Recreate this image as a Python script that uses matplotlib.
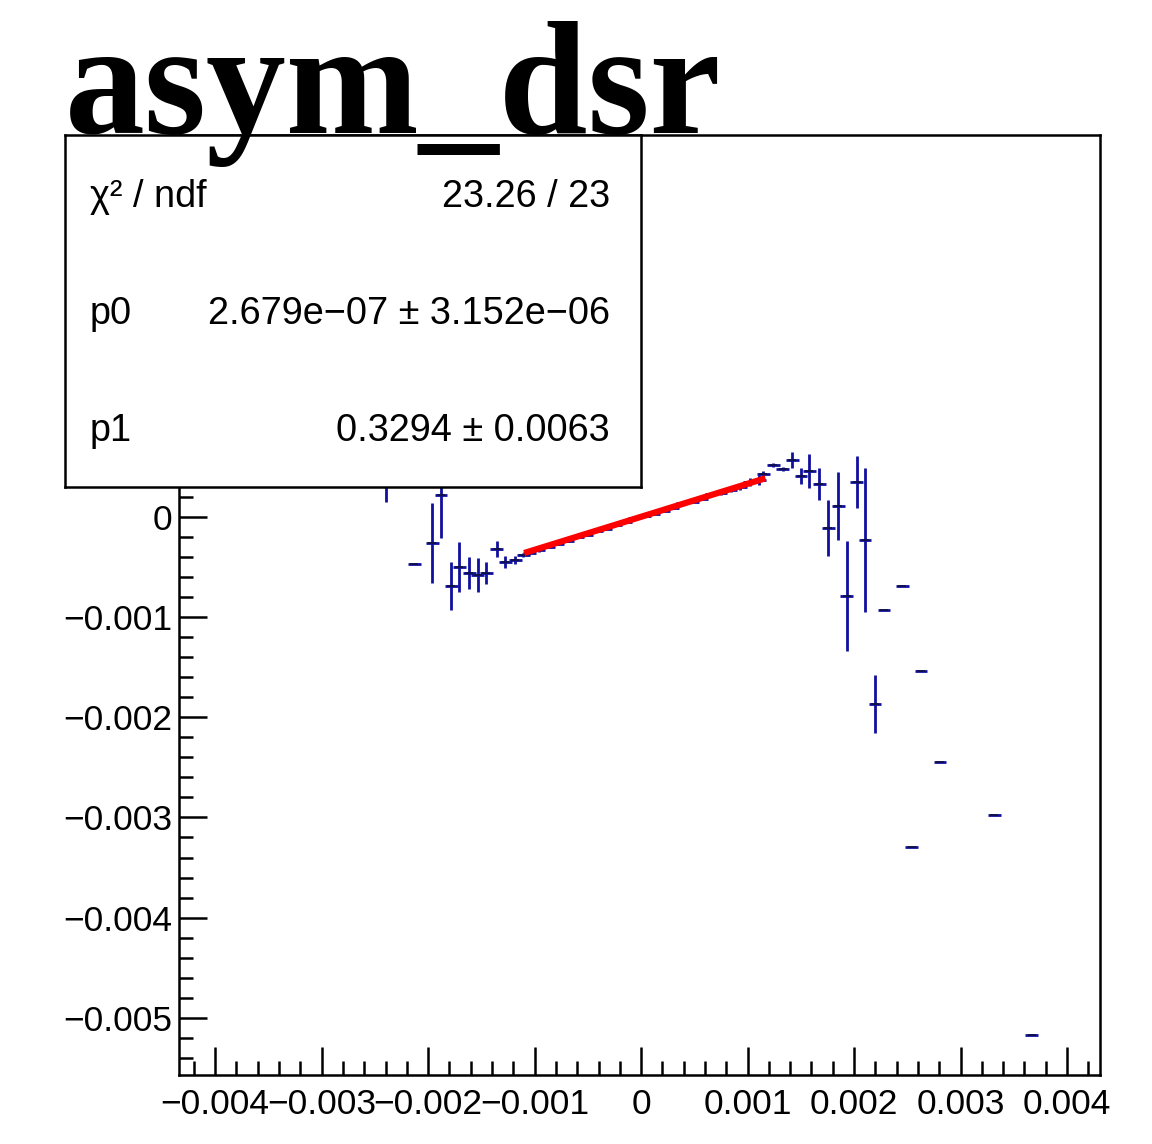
import matplotlib
matplotlib.use('Agg')
import matplotlib.pyplot as plt
import numpy as np
from matplotlib.ticker import MultipleLocator, FuncFormatter

plt.rcParams['font.family'] = ['Liberation Sans', 'DejaVu Sans']

# data points (outside the fit range, left side)
x_left = [-0.00240, -0.00213, -0.00196, -0.00188, -0.001784, -0.001706, -0.001612,
          -0.001533, -0.001455, -0.001355, -0.001277, -0.001183, -0.001105]
y_left = [0.00060, -0.000474, -0.000261, 0.000215, -0.000689, -0.000504, -0.000561,
          -0.000577, -0.000561, -0.000317, -0.000454, -0.000427, -0.000377]
e_left = [0.00045, 0.0, 0.00040, 0.00043, 0.00024, 0.00025, 0.00016,
          0.00017, 0.00011, 0.00008, 0.00006, 0.00004, 0.00002]

# points inside the fit range
x_fit = [-0.00105, -0.00096, -0.00087, -0.00078, -0.00069, -0.00060, -0.00051,
         -0.00042, -0.00033, -0.00024, -0.00015, -0.00006, 0.00003, 0.00012,
         0.00021, 0.00030, 0.00039, 0.00048, 0.00057, 0.00066, 0.00075,
         0.00084, 0.00093, 0.00102, 0.00111]
y_fit = [-0.000365, -0.000335, -0.000305, -0.000275, -0.000240, -0.000205, -0.000180,
         -0.000145, -0.000120, -0.000085, -0.000050, -0.000015, 0.000005, 0.000030,
         0.000060, 0.000085, 0.000135, 0.000150, 0.000175, 0.000225, 0.000240,
         0.000265, 0.000300, 0.000345, 0.000365]
e_fit = [0.00002, 0.00002, 0.00001, 0.00001, 0.00001, 0.00001, 0.00001,
         0.00001, 0.00001, 0.00001, 0.00001, 0.00001, 0.00001, 0.00001,
         0.00001, 0.00001, 0.00001, 0.00001, 0.00001, 0.00002, 0.00002,
         0.00002, 0.00003, 0.00004, 0.00005]

# right side
x_right = [0.001148, 0.001242, 0.001331, 0.001421, 0.001502, 0.00158, 0.001674,
           0.001759, 0.001853, 0.001932, 0.002025, 0.002103, 0.002197, 0.002282,
           0.002455, 0.002542, 0.002629, 0.002808, 0.003317, 0.003668]
y_right = [0.000432, 0.000514, 0.000481, 0.000564, 0.000404, 0.000454, 0.000324,
           -0.000108, 0.000108, -0.000793, 0.000346, -0.000234, -0.001866, -0.000933,
           -0.000689, -0.003298, -0.001541, -0.002446, -0.002979, -0.005169]
e_right = [0.00003, 0.00002, 0.00002, 0.00008, 0.00008, 0.00017, 0.00016,
           0.00028, 0.00034, 0.00055, 0.00026, 0.00072, 0.00029, 0.0,
           0.0, 0.0, 0.0, 0.0, 0.0, 0.0]

# fit result
p0, p0_err = 2.679e-07, 3.152e-06
p1, p1_err = 0.3294, 0.0063
chi2, ndf = 23.26, 23
fit_range = [-0.00107, 0.00114]

W, H = 1152, 1144
fig = plt.figure(figsize=(W / 100, H / 100), dpi=100)
ax = fig.add_axes([179 / W, 1 - 1075 / H, 921 / W, 940 / H])

blue = '#10109e'
xs = x_left + x_fit + x_right
ys = y_left + y_fit + y_right
es = e_left + e_fit + e_right
ax.errorbar(xs, ys, yerr=es, xerr=0.00006, fmt='none', ecolor=blue,
            elinewidth=2, capsize=0, zorder=2)
# small dark centre marks like ROOT's markers
ax.plot(xs, ys, linestyle='none', marker='_', color='#101040', ms=6, mew=1.2, zorder=3)

xf = np.array(fit_range)
ax.plot(xf, p0 + p1 * xf, color='red', lw=4.5, zorder=4)

ax.set_xlim(-0.00434, 0.00431)
ax.set_ylim(-0.00557, 0.00381)

ax.xaxis.set_major_locator(MultipleLocator(0.001))
ax.xaxis.set_minor_locator(MultipleLocator(0.0002))
ax.yaxis.set_major_locator(MultipleLocator(0.001))
ax.yaxis.set_minor_locator(MultipleLocator(0.0002))


def fmt(v, pos):
    if abs(v) < 1e-12:
        return '0'
    return f'{v:g}'.replace('-', '\u2212')


def yfmt(v, pos):
    # labels above zero sit under the stats box
    if v > 0.0005:
        return ''
    return fmt(v, pos)


ax.xaxis.set_major_formatter(FuncFormatter(fmt))
ax.yaxis.set_major_formatter(FuncFormatter(yfmt))
ax.tick_params(which='both', direction='in', top=False, right=False, width=1.8)
ax.tick_params(which='major', length=20, labelsize=25.5)
ax.tick_params(which='minor', length=10)
ax.tick_params(axis='x', which='major', pad=9)
ax.tick_params(axis='y', which='major', pad=5)
for s in ax.spines.values():
    s.set_linewidth(1.8)

# stats box
box = fig.add_axes([65 / W, 1 - 487 / H, 576 / W, 352 / H], zorder=5)
box.set_xticks([])
box.set_yticks([])
box.set_xlim(0, 1)
box.set_ylim(0, 1)
for s in box.spines.values():
    s.set_linewidth(1.8)
rows = [('\u03c7\u00b2 / ndf', f'{chi2:.2f} / {ndf}'),
        ('p0', f'{p0:.3e} \u00b1 {p0_err:.3e}'.replace('e-0', 'e\u22120')),
        ('p1', f'{p1:.4f} \u00b1 {p1_err:.4f}')]
for i, (lab, val) in enumerate(rows):
    yy = 1 - (62 + 117 * i) / 352
    box.text(25 / 576, yy, lab, fontsize=27.3, va='center', ha='left')
    box.text(545 / 576, yy, val, fontsize=27.3, va='center', ha='right')

fig.text(65 / W, 1 - 133 / H, 'asym_dsr', fontsize=115, fontweight='bold',
         family='Liberation Serif', va='baseline', ha='left', zorder=10)

plt.savefig('out.png', dpi=100)
